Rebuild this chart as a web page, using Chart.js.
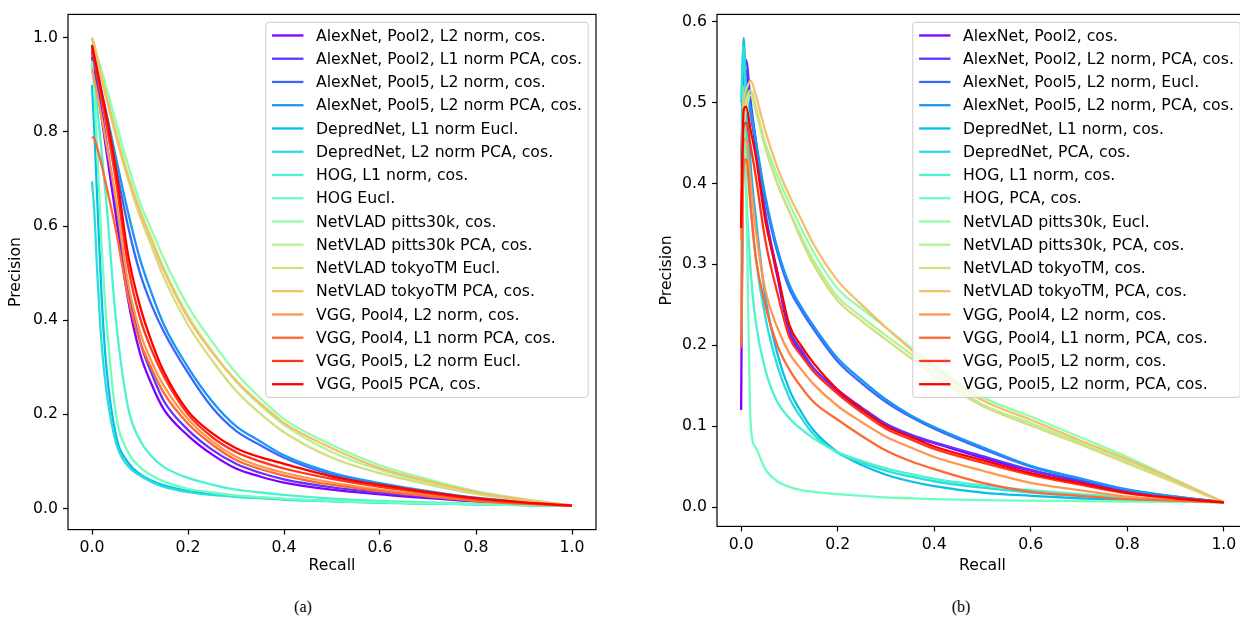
<!DOCTYPE html>
<html>
<head>
<meta charset="utf-8">
<script src="https://cdn.jsdelivr.net/npm/chart.js@4.4.1/dist/chart.umd.min.js"></script>
<style>
  html, body { margin: 0; padding: 0; background: #fff; }
  body { width: 1240px; height: 618px; overflow: hidden; position: relative; }
  .plot { position: absolute; top: 0; }
  #plotA { left: 0; }
  #plotB { left: 640px; }
  .caption { position: absolute; top: 598px; font-family: 'Liberation Serif', 'Times New Roman', serif;
             font-size: 16px; line-height: 18px; transform: translateX(-50%); color: #000; }
</style>
</head>
<body>
<canvas id="plotA" class="plot" width="620" height="590"></canvas>
<canvas id="plotB" class="plot" width="640" height="590"></canvas>
<div class="caption" style="left:303px">(a)</div>
<div class="caption" style="left:961px">(b)</div>
<script>
// recall values shared by every curve
const RECALL = [0, 0.005, 0.01, 0.02, 0.03, 0.05, 0.075, 0.1, 0.125, 0.15, 0.2, 0.25, 0.3, 0.35, 0.4, 0.5, 0.6, 0.7, 0.8, 0.9, 1.0];

// ---- plot (a) precision ----
const aAlexP2L2Cos     = [0.96, 0.93, 0.90, 0.83, 0.76, 0.62, 0.445, 0.33, 0.262, 0.21, 0.155, 0.115, 0.085, 0.068, 0.055, 0.04, 0.03, 0.022, 0.015, 0.01, 0.006];
const aAlexP2L1PcaCos  = [0.97, 0.94, 0.91, 0.845, 0.78, 0.645, 0.47, 0.355, 0.285, 0.228, 0.167, 0.125, 0.095, 0.076, 0.062, 0.045, 0.034, 0.025, 0.017, 0.011, 0.006];
const aAlexP5L2Cos     = [0.98, 0.955, 0.93, 0.875, 0.825, 0.725, 0.60, 0.50, 0.43, 0.375, 0.288, 0.215, 0.165, 0.135, 0.108, 0.072, 0.051, 0.035, 0.022, 0.013, 0.006];
const aAlexP5L2PcaCos  = [0.985, 0.96, 0.935, 0.885, 0.84, 0.745, 0.63, 0.53, 0.455, 0.39, 0.30, 0.228, 0.175, 0.143, 0.113, 0.076, 0.054, 0.037, 0.023, 0.014, 0.006];
const aDepL1Eucl       = [0.90, 0.80, 0.68, 0.45, 0.30, 0.155, 0.098, 0.073, 0.059, 0.049, 0.037, 0.031, 0.026, 0.023, 0.02, 0.016, 0.013, 0.011, 0.009, 0.0075, 0.006];
const aDepL2PcaCos     = [0.695, 0.63, 0.52, 0.35, 0.25, 0.14, 0.09, 0.07, 0.056, 0.046, 0.035, 0.029, 0.025, 0.022, 0.019, 0.015, 0.012, 0.0105, 0.009, 0.0075, 0.006];
const aHogL1Cos        = [0.94, 0.90, 0.86, 0.76, 0.65, 0.40, 0.215, 0.145, 0.11, 0.088, 0.065, 0.051, 0.04, 0.034, 0.029, 0.021, 0.016, 0.013, 0.01, 0.008, 0.006];
const aHogEucl         = [0.95, 0.88, 0.78, 0.56, 0.40, 0.20, 0.12, 0.088, 0.07, 0.057, 0.042, 0.034, 0.028, 0.024, 0.021, 0.016, 0.013, 0.011, 0.009, 0.0075, 0.006];
const aPittsCos        = [1.0, 0.985, 0.965, 0.93, 0.895, 0.82, 0.73, 0.65, 0.59, 0.53, 0.43, 0.355, 0.288, 0.235, 0.19, 0.135, 0.092, 0.062, 0.037, 0.02, 0.006];
const aPittsPcaCos     = [1.0, 0.98, 0.96, 0.92, 0.88, 0.80, 0.71, 0.635, 0.572, 0.51, 0.41, 0.335, 0.27, 0.22, 0.178, 0.12, 0.082, 0.055, 0.033, 0.018, 0.006];
const aTokyoEucl       = [1.0, 0.98, 0.955, 0.91, 0.87, 0.79, 0.70, 0.62, 0.555, 0.49, 0.39, 0.315, 0.25, 0.202, 0.162, 0.108, 0.075, 0.051, 0.031, 0.017, 0.006];
const aTokyoPcaCos     = [1.0, 0.98, 0.96, 0.915, 0.875, 0.795, 0.705, 0.63, 0.567, 0.505, 0.405, 0.332, 0.272, 0.224, 0.182, 0.128, 0.086, 0.058, 0.035, 0.019, 0.006];
const aVggP4L2Cos      = [0.935, 0.91, 0.885, 0.83, 0.775, 0.655, 0.48, 0.375, 0.31, 0.26, 0.19, 0.143, 0.11, 0.09, 0.076, 0.055, 0.04, 0.028, 0.018, 0.011, 0.006];
const aVggP4L1PcaCos   = [0.79, 0.785, 0.77, 0.73, 0.685, 0.59, 0.45, 0.355, 0.295, 0.245, 0.18, 0.136, 0.103, 0.084, 0.07, 0.05, 0.037, 0.026, 0.016, 0.01, 0.006];
const aVggP5L2Eucl     = [0.975, 0.95, 0.925, 0.87, 0.815, 0.695, 0.515, 0.405, 0.335, 0.28, 0.20, 0.152, 0.12, 0.1, 0.085, 0.063, 0.046, 0.032, 0.02, 0.012, 0.006];
const aVggP5PcaCos     = [0.985, 0.96, 0.935, 0.885, 0.835, 0.72, 0.54, 0.43, 0.352, 0.29, 0.207, 0.16, 0.128, 0.109, 0.095, 0.068, 0.05, 0.035, 0.022, 0.013, 0.006];

const LABELS_A = [
  'AlexNet, Pool2, L2 norm, cos.', 'AlexNet, Pool2, L1 norm PCA, cos.',
  'AlexNet, Pool5, L2 norm, cos.', 'AlexNet, Pool5, L2 norm PCA, cos.',
  'DepredNet, L1 norm Eucl.', 'DepredNet, L2 norm PCA, cos.',
  'HOG, L1 norm, cos.', 'HOG Eucl.',
  'NetVLAD pitts30k, cos.', 'NetVLAD pitts30k PCA, cos.',
  'NetVLAD tokyoTM Eucl.', 'NetVLAD tokyoTM PCA, cos.',
  'VGG, Pool4, L2 norm, cos.', 'VGG, Pool4, L1 norm PCA, cos.',
  'VGG, Pool5, L2 norm Eucl.', 'VGG, Pool5 PCA, cos.'
];

// ---- plot (b) precision ----
const bAlexP2Cos       = [0.12, 0.50, 0.54, 0.49, 0.445, 0.36, 0.285, 0.215, 0.19, 0.168, 0.142, 0.12, 0.101, 0.088, 0.079, 0.061, 0.045, 0.032, 0.02, 0.012, 0.006];
const bAlexP2L2PcaCos  = [0.24, 0.52, 0.553, 0.50, 0.455, 0.365, 0.29, 0.22, 0.194, 0.172, 0.145, 0.123, 0.103, 0.09, 0.08, 0.063, 0.046, 0.033, 0.021, 0.012, 0.006];
const bAlexP5L2Eucl    = [0.305, 0.50, 0.52, 0.485, 0.45, 0.38, 0.315, 0.27, 0.243, 0.22, 0.18, 0.153, 0.13, 0.112, 0.097, 0.072, 0.05, 0.035, 0.021, 0.013, 0.006];
const bAlexP5L2PcaCos  = [0.42, 0.51, 0.515, 0.49, 0.455, 0.385, 0.32, 0.275, 0.247, 0.224, 0.184, 0.157, 0.133, 0.114, 0.099, 0.074, 0.051, 0.036, 0.022, 0.013, 0.006];
const bDepL1Cos        = [0.40, 0.58, 0.52, 0.42, 0.36, 0.26, 0.19, 0.145, 0.117, 0.095, 0.068, 0.052, 0.04, 0.032, 0.026, 0.018, 0.014, 0.011, 0.009, 0.0075, 0.006];
const bDepPcaCos       = [0.50, 0.57, 0.48, 0.37, 0.31, 0.235, 0.175, 0.135, 0.11, 0.09, 0.067, 0.055, 0.045, 0.038, 0.032, 0.024, 0.018, 0.014, 0.011, 0.008, 0.006];
const bHogL1Cos        = [0.30, 0.52, 0.40, 0.29, 0.23, 0.17, 0.13, 0.11, 0.096, 0.085, 0.068, 0.057, 0.048, 0.041, 0.035, 0.027, 0.021, 0.016, 0.012, 0.009, 0.006];
const bHogPcaCos       = [0.20, 0.47, 0.40, 0.10, 0.074, 0.047, 0.032, 0.025, 0.021, 0.019, 0.016, 0.014, 0.012, 0.011, 0.01, 0.0086, 0.008, 0.0075, 0.007, 0.0065, 0.006];
const bPittsEucl       = [0.29, 0.47, 0.50, 0.515, 0.495, 0.45, 0.41, 0.375, 0.344, 0.315, 0.27, 0.245, 0.222, 0.198, 0.175, 0.136, 0.112, 0.087, 0.062, 0.034, 0.006];
const bPittsPcaCos     = [0.22, 0.46, 0.49, 0.51, 0.49, 0.445, 0.40, 0.365, 0.334, 0.305, 0.26, 0.235, 0.212, 0.19, 0.167, 0.127, 0.104, 0.08, 0.056, 0.031, 0.006];
const bTokyoCos        = [0.25, 0.47, 0.50, 0.515, 0.495, 0.445, 0.40, 0.365, 0.33, 0.30, 0.255, 0.23, 0.207, 0.185, 0.162, 0.125, 0.101, 0.078, 0.054, 0.03, 0.006];
const bTokyoPcaCos     = [0.40, 0.50, 0.515, 0.527, 0.51, 0.465, 0.42, 0.385, 0.355, 0.325, 0.28, 0.25, 0.222, 0.196, 0.172, 0.132, 0.108, 0.083, 0.059, 0.033, 0.006];
const bVggP4L2Cos      = [0.33, 0.45, 0.455, 0.40, 0.345, 0.268, 0.222, 0.19, 0.17, 0.152, 0.125, 0.105, 0.087, 0.074, 0.062, 0.045, 0.03, 0.021, 0.013, 0.009, 0.006];
const bVggP4L1PcaCos   = [0.197, 0.42, 0.43, 0.37, 0.31, 0.25, 0.20, 0.17, 0.148, 0.13, 0.108, 0.088, 0.07, 0.057, 0.047, 0.03, 0.019, 0.014, 0.01, 0.008, 0.006];
const bVggP5L2Cos      = [0.35, 0.47, 0.475, 0.445, 0.41, 0.33, 0.265, 0.21, 0.187, 0.168, 0.14, 0.117, 0.097, 0.084, 0.072, 0.055, 0.04, 0.028, 0.017, 0.011, 0.006];
const bVggP5L2PcaCos   = [0.345, 0.49, 0.495, 0.465, 0.435, 0.355, 0.29, 0.225, 0.199, 0.178, 0.145, 0.121, 0.10, 0.087, 0.075, 0.058, 0.042, 0.03, 0.018, 0.011, 0.006];

const LABELS_B = [
  'AlexNet, Pool2, cos.', 'AlexNet, Pool2, L2 norm, PCA, cos.',
  'AlexNet, Pool5, L2 norm, Eucl.', 'AlexNet, Pool5, L2 norm, PCA, cos.',
  'DepredNet, L1 norm, cos.', 'DepredNet, PCA, cos.',
  'HOG, L1 norm, cos.', 'HOG, PCA, cos.',
  'NetVLAD pitts30k, Eucl.', 'NetVLAD pitts30k, PCA, cos.',
  'NetVLAD tokyoTM, cos.', 'NetVLAD tokyoTM, PCA, cos.',
  'VGG, Pool4, L2 norm, cos.', 'VGG, Pool4, L1 norm, PCA, cos.',
  'VGG, Pool5, L2 norm, cos.', 'VGG, Pool5, L2 norm, PCA, cos.'
];

const X_TICKS = [0, 0.2, 0.4, 0.6, 0.8, 1.0];
const Y_TICKS_A = [0, 0.2, 0.4, 0.6, 0.8, 1.0];
const Y_TICKS_B = [0, 0.1, 0.2, 0.3, 0.4, 0.5, 0.6];

// matplotlib "rainbow" sampled at 16 steps
const COLORS = ['#8000ff', '#5e35fe', '#3c68f9', '#1a96f3', '#08bee9', '#2adddd', '#4cf3ce', '#6efebe',
                '#90feab', '#b2f396', '#d4dd80', '#f6be68', '#ff964f', '#ff6835', '#ff351b', '#ff0000'];

const SERIES_A = [aAlexP2L2Cos, aAlexP2L1PcaCos, aAlexP5L2Cos, aAlexP5L2PcaCos, aDepL1Eucl, aDepL2PcaCos,
  aHogL1Cos, aHogEucl, aPittsCos, aPittsPcaCos, aTokyoEucl, aTokyoPcaCos, aVggP4L2Cos, aVggP4L1PcaCos,
  aVggP5L2Eucl, aVggP5PcaCos];
const SERIES_B = [bAlexP2Cos, bAlexP2L2PcaCos, bAlexP5L2Eucl, bAlexP5L2PcaCos, bDepL1Cos, bDepPcaCos,
  bHogL1Cos, bHogPcaCos, bPittsEucl, bPittsPcaCos, bTokyoCos, bTokyoPcaCos, bVggP4L2Cos, bVggP4L1PcaCos,
  bVggP5L2Cos, bVggP5L2PcaCos];

const FONT = 'DejaVu Sans';
const FS = 15.7;

// frame on four sides + matplotlib style legend box in the upper right
const framePlugin = {
  id: 'frameAndLegend',
  afterDraw(chart) {
    const { ctx, chartArea: a } = chart;
    ctx.save();
    ctx.strokeStyle = '#000';
    ctx.lineWidth = 1.2;
    ctx.strokeRect(a.left, a.top, a.right - a.left, a.bottom - a.top);

    const sets = chart.data.datasets;
    ctx.font = FS + 'px "' + FONT + '"';
    let tw = 0;
    sets.forEach(d => { tw = Math.max(tw, ctx.measureText(d.label).width); });
    const pad = 0.4 * FS, handle = 2 * FS, gap = 0.8 * FS;
    const rowH = 23.25, first = 13.2;
    const w = pad + handle + gap + tw + pad;
    const h = first * 2 + rowH * (sets.length - 1);
    const x = a.right - 0.5 * FS - w;
    const y = a.top + 0.5 * FS;
    ctx.beginPath();
    ctx.roundRect(x, y, w, h, 3);
    ctx.fillStyle = 'rgba(255,255,255,0.8)';
    ctx.fill();
    ctx.strokeStyle = '#cccccc';
    ctx.lineWidth = 1;
    ctx.stroke();
    ctx.textBaseline = 'middle';
    sets.forEach((d, i) => {
      const cy = y + first + i * rowH;
      ctx.beginPath();
      ctx.moveTo(x + pad, cy);
      ctx.lineTo(x + pad + handle, cy);
      ctx.strokeStyle = d.borderColor;
      ctx.lineWidth = d.borderWidth;
      ctx.stroke();
      ctx.fillStyle = '#000';
      ctx.fillText(d.label, x + pad + handle + gap, cy + 1);
    });
    ctx.restore();
  }
};

function makeChart(id, series, labels, yMin, yMax, yTicks, axisW, axisH, padTop, padRight, yTitlePad) {
  const datasets = series.map((s, i) => ({
    label: labels[i],
    data: RECALL.map((r, k) => ({ x: r, y: s[k] })),
    borderColor: COLORS[i],
    backgroundColor: COLORS[i],
    borderWidth: 2.3,
    pointRadius: 0,
    fill: false,
    cubicInterpolationMode: 'monotone',
    order: series.length - i
  }));
  const tickFont = { family: FONT, size: FS };
  return new Chart(document.getElementById(id), {
    type: 'line',
    data: { datasets },
    plugins: [framePlugin],
    options: {
      responsive: false,
      animation: false,
      devicePixelRatio: 1,
      events: [],
      layout: { padding: { top: padTop, right: padRight, left: 0, bottom: 0 } },
      plugins: { legend: { display: false }, tooltip: { enabled: false } },
      scales: {
        x: {
          type: 'linear', min: -0.05, max: 1.05,
          afterBuildTicks: s => { s.ticks = X_TICKS.map(v => ({ value: v })); },
          afterFit: s => { s.height = axisH; },
          grid: { drawOnChartArea: false, drawTicks: true, tickLength: 5, tickWidth: 1.2, tickColor: '#000' },
          border: { display: false },
          ticks: { callback: v => v.toFixed(1), font: tickFont, color: '#000', padding: 4, maxRotation: 0 },
          title: { display: true, text: 'Recall', font: tickFont, color: '#000', padding: { top: 0, bottom: 14.6 } }
        },
        y: {
          type: 'linear', min: yMin, max: yMax,
          afterBuildTicks: s => { s.ticks = yTicks.map(v => ({ value: v })); },
          afterFit: s => { s.width = axisW; },
          grid: { drawOnChartArea: false, drawTicks: true, tickLength: 5, tickWidth: 1.2, tickColor: '#000' },
          border: { display: false },
          ticks: { callback: v => v.toFixed(1), font: tickFont, color: '#000', padding: 5 },
          title: { display: true, text: 'Precision', font: tickFont, color: '#000', padding: { top: yTitlePad, bottom: 0 } }
        }
      }
    }
  });
}

makeChart('plotA', SERIES_A, LABELS_A, -0.0448, 1.0498, Y_TICKS_A, 68, 60.4, 9.4, 24, 6.6);
makeChart('plotB', SERIES_B, LABELS_B, -0.0238, 0.609, Y_TICKS_B, 77, 63.6, 10.7, 32, 17.6);
</script>
</body>
</html>
